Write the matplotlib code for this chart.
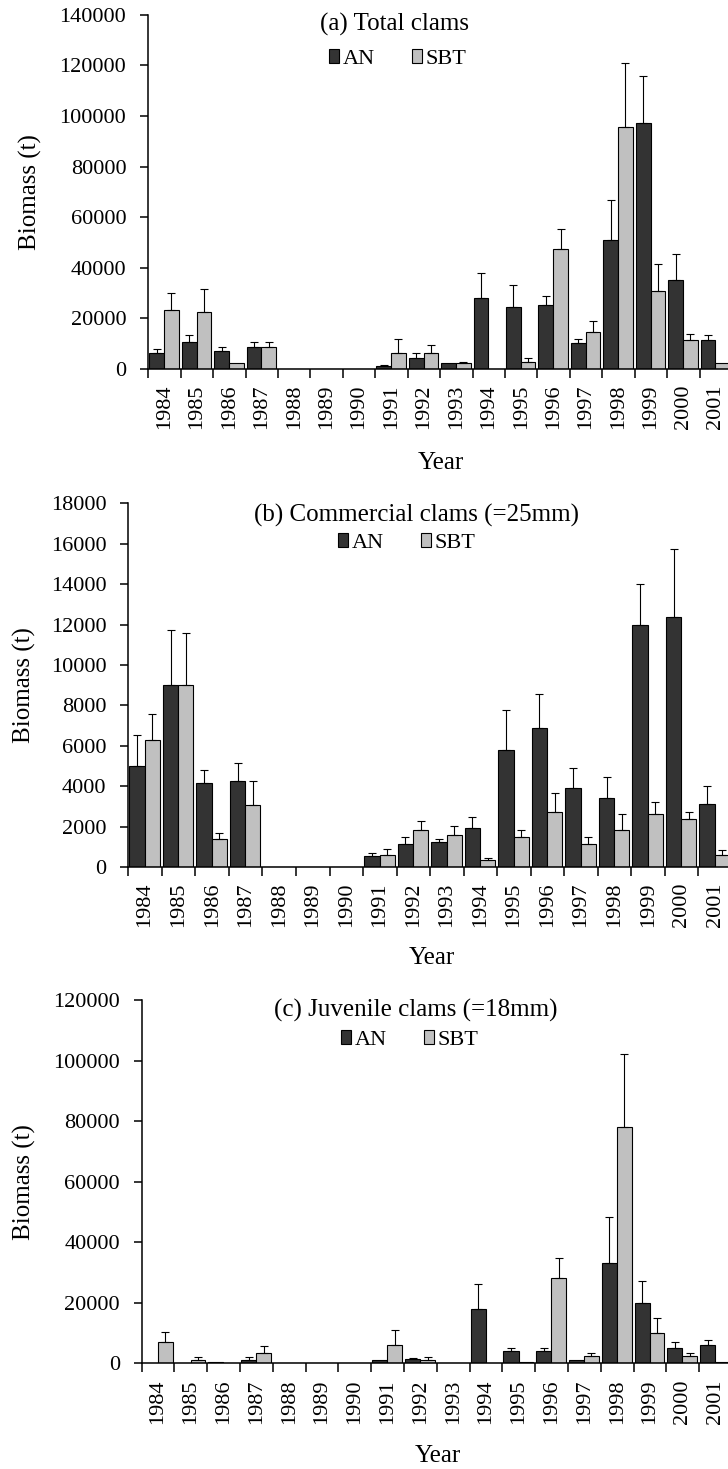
import matplotlib.pyplot as plt
import numpy as np
from matplotlib.patches import Patch

plt.rcParams['font.family'] = 'Liberation Serif'
plt.rcParams['font.size'] = 16

years = [str(y) for y in range(1984, 2002)]

# (a) total clams, biomass (t) and upper error
total_an = [6500, 10600, 7300, 8600, 0, 0, 0, 1000, 4500, 2250, 28100, 24600,
            25300, 10100, 51100, 97300, 35100, 11300]
total_an_err = [1300, 2900, 1200, 2100, 0, 0, 0, 600, 1900, 0, 9800, 8400,
                3400, 1900, 15500, 18500, 10300, 2100]
total_sbt = [23300, 22500, 2400, 8600, 0, 0, 0, 6500, 6500, 2400, 0, 2900,
             47600, 14800, 95800, 30900, 11300, 2400]
total_sbt_err = [6700, 9000, 0, 2100, 0, 0, 0, 5500, 2800, 500, 0, 1500,
                 7700, 4300, 25000, 10400, 2700, 0]

# (b) commercial clams
comm_an = [5000, 9000, 4180, 4280, 0, 0, 0, 530, 1160, 1240, 1935, 5770,
           6890, 3920, 3400, 12000, 12360, 3140]
comm_an_err = [1550, 2740, 630, 860, 0, 0, 0, 180, 340, 150, 525, 1980,
               1660, 960, 1050, 2000, 3380, 860]
comm_sbt = [6280, 9000, 1405, 3060, 0, 0, 0, 610, 1835, 1590, 360, 1490,
            2710, 1140, 1835, 2630, 2380, 580]
comm_sbt_err = [1310, 2560, 265, 1220, 0, 0, 0, 280, 445, 430, 100, 360,
                940, 350, 795, 590, 330, 280]

# (c) juvenile clams
juv_an = [0, 0, 500, 1100, 0, 0, 0, 1000, 1550, 0, 18100, 4100,
          4100, 1200, 33300, 19800, 5200, 5900]
juv_an_err = [0, 0, 0, 1100, 0, 0, 0, 0, 300, 0, 8200, 1100,
              1100, 0, 15000, 7500, 1900, 1750]
juv_sbt = [7100, 1100, 0, 3550, 0, 0, 0, 5900, 1100, 0, 0, 550,
           28060, 2440, 78240, 10000, 2440, 550]
juv_sbt_err = [3300, 1100, 0, 2250, 0, 0, 0, 5100, 1100, 0, 0, 0,
               6840, 1110, 24160, 5100, 1110, 0]

W, H = 728, 1469
DARK = '#333333'
LIGHT = '#c0c0c0'

fig = plt.figure(figsize=(W / 100, H / 100), dpi=100)


def px(x, y):
    return x / W, 1 - y / H


def panel(left, top, bottom, an, an_err, sbt, sbt_err, ymax, ystep,
          title, title_xy, leg_xy, ylab_xy, xlab_xy):
    right = 732
    ax = fig.add_axes([left / W, 1 - bottom / H, (right - left) / W, (bottom - top) / H])
    idx = np.arange(len(years))
    ax.bar(idx + 0.03, an, width=0.46, align='edge', color=DARK,
           edgecolor='black', linewidth=0.8, zorder=2)
    ax.bar(idx + 0.49, sbt, width=0.45, align='edge', color=LIGHT,
           edgecolor='black', linewidth=0.8, zorder=2)
    for xs, vals, errs in [(idx + 0.26, an, an_err), (idx + 0.715, sbt, sbt_err)]:
        vals = np.array(vals)
        errs = np.array(errs)
        m = errs > 0
        ax.errorbar(xs[m], vals[m], yerr=[np.zeros(m.sum()), errs[m]], fmt='none',
                    ecolor='black', elinewidth=0.8, capsize=3, capthick=0.8, zorder=3)
    ax.set_xlim(0, len(years))
    ax.set_ylim(0, ymax)
    yt = np.arange(0, ymax + 1, ystep)
    ax.set_yticks(yt)
    ax.set_yticklabels([str(int(v)) for v in yt])
    ax.set_xticks(np.arange(0, len(years) + 1))
    ax.set_xticklabels([])
    ax.set_xticks(idx + 0.5, minor=True)
    ax.set_xticklabels(years, minor=True, rotation=90)
    ax.tick_params(axis='x', which='major', length=6.5, width=1.1, direction='out')
    ax.tick_params(axis='x', which='minor', length=0, pad=11.5)
    ax.tick_params(axis='y', length=5.8, width=1.1, pad=10)
    for s in ['top', 'right']:
        ax.spines[s].set_visible(False)
    for s in ['left', 'bottom']:
        ax.spines[s].set_linewidth(1.1)

    fig.text(*px(*title_xy), title, ha='center', va='center', fontsize=18)
    fig.text(*px(*ylab_xy), 'Biomass (t)', rotation=90, ha='center', va='center',
             fontsize=18)
    fig.text(*px(*xlab_xy), 'Year', ha='center', va='center', fontsize=18)
    handles = [Patch(facecolor=DARK, edgecolor='black', linewidth=0.8, label='AN'),
               Patch(facecolor=LIGHT, edgecolor='black', linewidth=0.8, label='SBT')]
    fig.legend(handles=handles, loc='center left', bbox_to_anchor=px(*leg_xy),
               ncol=2, frameon=False, borderpad=0, borderaxespad=0,
               handlelength=0.45, handleheight=0.6, handletextpad=0.15,
               columnspacing=1.7)
    return ax


panel(148.3, 14.7, 369, total_an, total_an_err, total_sbt, total_sbt_err,
      140000, 20000, '(a) Total clams', (395, 24), (329, 59), (30, 192), (441, 463))
panel(128.3, 503.3, 867, comm_an, comm_an_err, comm_sbt, comm_sbt_err,
      18000, 2000, '(b) Commercial clams (=25mm)', (417, 515), (338, 543),
      (24, 685), (432, 958))
panel(141.7, 1000.3, 1363.3, juv_an, juv_an_err, juv_sbt, juv_sbt_err,
      120000, 20000, '(c) Juvenile clams (=18mm)', (416, 1010), (341, 1040),
      (24, 1182), (438, 1456))

fig.savefig('out.png', dpi=100)
